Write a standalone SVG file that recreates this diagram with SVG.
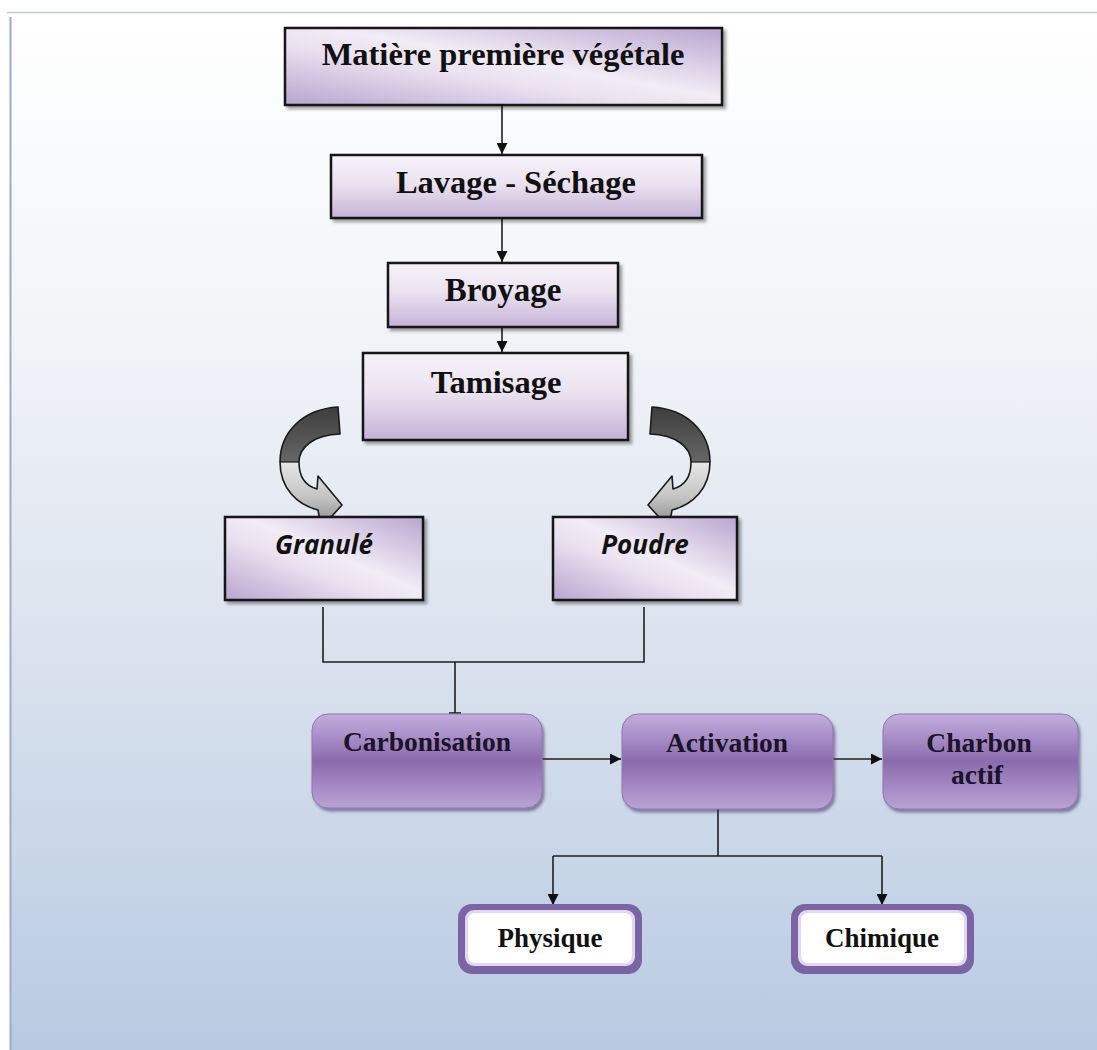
<svg xmlns="http://www.w3.org/2000/svg" width="1097" height="1050" viewBox="0 0 1097 1050">
<style>
.t{font-family:"Liberation Serif","Times New Roman",serif;font-weight:bold;fill:#111;text-anchor:middle}
.tp{font-family:"Liberation Serif","Times New Roman",serif;font-weight:bold;fill:#1c1428;text-anchor:middle;font-size:27.5px}
.ti{font-family:"Open Sans","Liberation Sans",sans-serif;font-weight:bold;font-style:italic;fill:#111;text-anchor:middle;font-size:26px}
.sq{fill:url(#gSq);stroke:#151515;stroke-width:2.5;filter:url(#sh)}
.sq2{fill:url(#gDiag);stroke:#151515;stroke-width:2.5;filter:url(#sh)}
.rb{fill:url(#gPur);stroke:#8f76b0;stroke-width:1;filter:url(#shp)}
.ln{fill:none;stroke:#1e1e1e;stroke-width:1.6}
.ar{fill:none;stroke:#1e1e1e;stroke-width:1.6;marker-end:url(#ah)}
.curv{fill:url(#gCurve);stroke:#1a1a1a;stroke-width:1.6;stroke-linejoin:round}
</style>
<defs>
<linearGradient id="gBg" x1="0" y1="17" x2="0" y2="1050" gradientUnits="userSpaceOnUse">
<stop offset="0" stop-color="#ffffff"/>
<stop offset="0.3" stop-color="#f2f4f8"/>
<stop offset="0.6" stop-color="#dbe3ee"/>
<stop offset="1" stop-color="#b8cae2"/>
</linearGradient>
<linearGradient id="gSq" x1="0" y1="0" x2="0" y2="1">
<stop offset="0" stop-color="#f6f2f9"/>
<stop offset="0.45" stop-color="#ebe3f0"/>
<stop offset="1" stop-color="#c6b2d8"/>
</linearGradient>
<linearGradient id="gDiag" x1="1" y1="0" x2="0" y2="1">
<stop offset="0" stop-color="#b9a5d0"/>
<stop offset="0.45" stop-color="#f1ecf5"/>
<stop offset="0.6" stop-color="#eae2f0"/>
<stop offset="1" stop-color="#b9a4cf"/>
</linearGradient>
<linearGradient id="gPur" x1="0" y1="0" x2="0" y2="1">
<stop offset="0" stop-color="#c2addb"/>
<stop offset="0.2" stop-color="#ad94cc"/>
<stop offset="0.5" stop-color="#8a6bad"/>
<stop offset="0.8" stop-color="#a88dc7"/>
<stop offset="1" stop-color="#b9a3d3"/>
</linearGradient>
<linearGradient id="gCurve" x1="0" y1="408" x2="0" y2="527" gradientUnits="userSpaceOnUse">
<stop offset="0" stop-color="#3e3e3e"/>
<stop offset="0.45" stop-color="#666666"/>
<stop offset="0.455" stop-color="#e6e6e6"/>
<stop offset="0.75" stop-color="#c4c4c4"/>
<stop offset="1" stop-color="#8a8a8a"/>
</linearGradient>
<filter id="sh" x="-5%" y="-10%" width="115%" height="130%">
<feDropShadow dx="3" dy="3" stdDeviation="1.5" flood-color="#000" flood-opacity="0.35"/>
</filter>
<filter id="shp" x="-5%" y="-10%" width="115%" height="130%">
<feDropShadow dx="2" dy="3" stdDeviation="1.5" flood-color="#3f2f5c" flood-opacity="0.55"/>
</filter>
<marker id="ah" viewBox="0 0 10 10" refX="10" refY="5" markerWidth="11" markerHeight="11" markerUnits="userSpaceOnUse" orient="auto">
<path d="M0,0 L10,5 L0,10 z" fill="#111"/>
</marker>
</defs>

<g id="background">
<rect x="0" y="0" width="1097" height="1050" fill="#ffffff"/>
<rect x="11" y="17" width="1086" height="1033" fill="url(#gBg)"/>
<line x1="7" y1="12.5" x2="1097" y2="12.5" stroke="#c6cbd4" stroke-width="1.5"/>
<line x1="10.5" y1="17" x2="10.5" y2="1050" stroke="#9ea9cb" stroke-width="2"/>
</g>

<g id="connectors">
<path class="ar" d="M502,105 V154"/>
<path class="ar" d="M502,218 V262"/>
<path class="ar" d="M502,327 V352"/>
<path class="ln" d="M323,607 V662 H644 V607"/>
<path class="ln" d="M455,662 V713"/>
<path class="ln" d="M449,713 H461" stroke-width="2.5"/>
<path class="ar" d="M542,759 H621"/>
<path class="ar" d="M833,759 H882"/>
<path class="ln" d="M718,809 V856"/>
<path class="ln" d="M553,856 H882"/>
<path class="ar" d="M553,856 V905"/>
<path class="ar" d="M882,856 V905"/>
<g id="curve-left">
<path class="curv" d="M338,407 C303,409 280,432 280,462 C280,489 298,505 318,510 L321,528 L342,505 L318,476 L317,489 C306,486 299,477 299,462 C299,447 314,435 340,434 Z"/>
<path d="M280,462 L299,462" stroke="#1a1a1a" stroke-width="1.2"/>
</g>
<g id="curve-right" transform="matrix(-1 0 0 1 990 0)">
<path class="curv" d="M338,407 C303,409 280,432 280,462 C280,489 298,505 318,510 L321,528 L342,505 L318,476 L317,489 C306,486 299,477 299,462 C299,447 314,435 340,434 Z"/>
<path d="M280,462 L299,462" stroke="#1a1a1a" stroke-width="1.2"/>
</g>
</g>

<g id="node-matiere">
<rect class="sq2" x="285" y="28" width="437" height="77"/>
<text class="t" x="503" y="65" font-size="32.5">Matière première végétale</text>
</g>
<g id="node-lavage">
<rect class="sq" x="331" y="155" width="371" height="63"/>
<text class="t" x="516" y="193" font-size="32.5">Lavage - Séchage</text>
</g>
<g id="node-broyage">
<rect class="sq" x="388" y="263" width="230" height="64"/>
<text class="t" x="503" y="301" font-size="33">Broyage</text>
</g>
<g id="node-tamisage">
<rect class="sq" x="363" y="353" width="265" height="87"/>
<text class="t" x="496" y="393" font-size="32.5">Tamisage</text>
</g>
<g id="node-granule">
<rect class="sq2" x="225" y="517" width="198" height="83"/>
<text class="ti" x="324" y="554">Granulé</text>
</g>
<g id="node-poudre">
<rect class="sq2" x="553" y="517" width="184" height="83"/>
<text class="ti" x="645" y="554">Poudre</text>
</g>
<g id="node-carbonisation">
<rect class="rb" x="312" y="714" width="230" height="94" rx="16"/>
<text class="tp" x="427" y="751">Carbonisation</text>
</g>
<g id="node-activation">
<rect class="rb" x="622" y="714" width="211" height="95" rx="16"/>
<text class="tp" x="727" y="752">Activation</text>
</g>
<g id="node-charbon">
<rect class="rb" x="883" y="714" width="195" height="95" rx="16"/>
<text class="tp" x="979" y="752">Charbon</text>
<text class="tp" x="977" y="784">actif</text>
</g>
<g id="node-physique">
<rect x="458" y="904" width="184" height="70" rx="14" fill="#7b64a4"/>
<rect x="465" y="910" width="170" height="56" rx="9" fill="#e4d6f0"/>
<rect x="468" y="913" width="164" height="50" rx="7" fill="#ffffff"/>
<text class="t" x="550" y="947" font-size="27">Physique</text>
</g>
<g id="node-chimique">
<rect x="791" y="904" width="183" height="70" rx="14" fill="#7b64a4"/>
<rect x="798" y="910" width="169" height="56" rx="9" fill="#e4d6f0"/>
<rect x="801" y="913" width="163" height="50" rx="7" fill="#ffffff"/>
<text class="t" x="882" y="947" font-size="27">Chimique</text>
</g>
</svg>
